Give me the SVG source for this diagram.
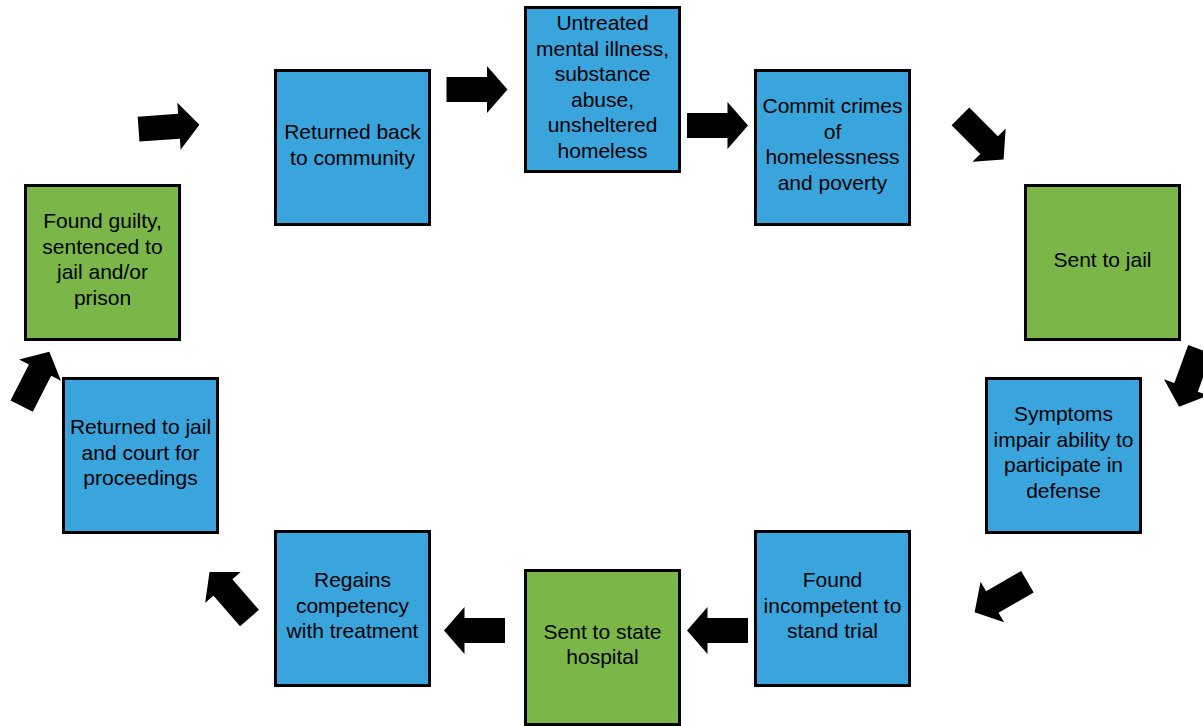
<svg xmlns="http://www.w3.org/2000/svg" width="1203" height="726" viewBox="0 0 1203 726">
<style>
.box{stroke:#000;stroke-width:3}
.b{fill:#3AA4DD}
.g{fill:#7AB648}
text{font-family:"Liberation Sans",Arial,sans-serif;font-size:21px;fill:#000;text-anchor:middle}
.arr{fill:#000}
</style>
<defs>
<path id="ar" d="M-30.5,-12.5 H10 V-23.5 L30.5,0 L10,23.5 V12.5 H-30.5 Z"/>
</defs>
<rect width="1203" height="726" fill="#fff"/>
<g id="connectors">
<use href="#ar" class="arr" transform="translate(169,127) rotate(-4)"/>
<use href="#ar" class="arr" transform="translate(477,89.5)"/>
<use href="#ar" class="arr" transform="translate(717.5,125.5)"/>
<use href="#ar" class="arr" transform="translate(982,138) rotate(45)"/>
<use href="#ar" class="arr" transform="translate(1189.5,378) rotate(110)"/>
<use href="#ar" class="arr" transform="translate(1001,597) rotate(150)"/>
<use href="#ar" class="arr" transform="translate(717.5,630.5) rotate(180)"/>
<use href="#ar" class="arr" transform="translate(474.5,630.5) rotate(180)"/>
<use href="#ar" class="arr" transform="translate(229.5,595) rotate(229)"/>
<use href="#ar" class="arr" transform="translate(35.5,379) rotate(-63)"/>
</g>
<g id="n1"><rect class="box b" x="275.5" y="70.5" width="154" height="154"/>
<text x="352.5" y="139">Returned back</text><text x="352.5" y="164.5">to community</text></g>
<g id="n2"><rect class="box b" x="525.5" y="7.5" width="154" height="164"/>
<text x="602.5" y="30">Untreated</text><text x="602.5" y="55.5">mental illness,</text><text x="602.5" y="81">substance</text><text x="602.5" y="106.5">abuse,</text><text x="602.5" y="132">unsheltered</text><text x="602.5" y="157.5">homeless</text></g>
<g id="n3"><rect class="box b" x="755.5" y="70.5" width="154" height="154"/>
<text x="832.5" y="113">Commit crimes</text><text x="832.5" y="138.5">of</text><text x="832.5" y="164">homelessness</text><text x="832.5" y="189.5">and poverty</text></g>
<g id="n4"><rect class="box g" x="1025.5" y="185.5" width="154" height="154"/>
<text x="1102.5" y="267">Sent to jail</text></g>
<g id="n5"><rect class="box b" x="986.5" y="378.5" width="154" height="154"/>
<text x="1063.5" y="421">Symptoms</text><text x="1063.5" y="446.5">impair ability to</text><text x="1063.5" y="472">participate in</text><text x="1063.5" y="497.5">defense</text></g>
<g id="n6"><rect class="box b" x="755.5" y="531.5" width="154" height="154"/>
<text x="832.5" y="587">Found</text><text x="832.5" y="612.5">incompetent to</text><text x="832.5" y="638">stand trial</text></g>
<g id="n7"><rect class="box g" x="525.5" y="570.5" width="154" height="154"/>
<text x="602.5" y="638.5">Sent to state</text><text x="602.5" y="664">hospital</text></g>
<g id="n8"><rect class="box b" x="275.5" y="531.5" width="154" height="154"/>
<text x="352.5" y="587">Regains</text><text x="352.5" y="612.5">competency</text><text x="352.5" y="638">with treatment</text></g>
<g id="n9"><rect class="box b" x="63.5" y="378.5" width="154" height="154"/>
<text x="140.5" y="434">Returned to jail</text><text x="140.5" y="459.5">and court for</text><text x="140.5" y="485">proceedings</text></g>
<g id="n10"><rect class="box g" x="25.5" y="185.5" width="154" height="154"/>
<text x="102.5" y="228">Found guilty,</text><text x="102.5" y="253.5">sentenced to</text><text x="102.5" y="279">jail and/or</text><text x="102.5" y="304.5">prison</text></g>
</svg>
